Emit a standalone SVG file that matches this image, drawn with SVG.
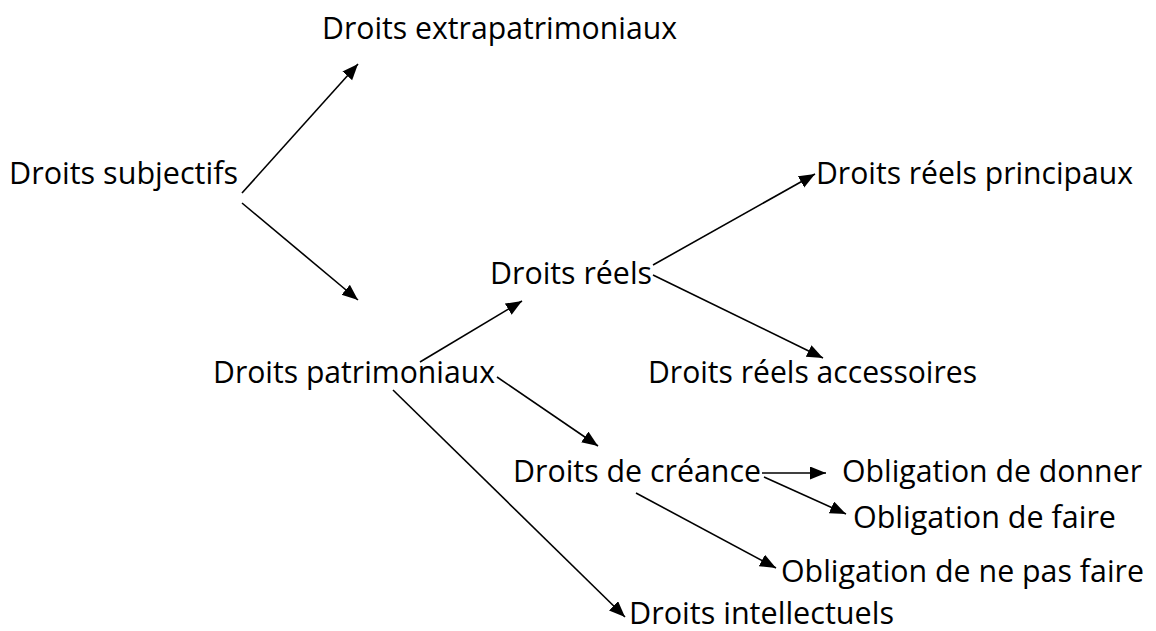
<svg xmlns="http://www.w3.org/2000/svg" width="1156" height="631" viewBox="0 0 1156 631">
  <style>
    text { font-family: "Open Sans", "Noto Sans", "Liberation Sans", sans-serif; font-size: 31px; fill: #000; }
    .conn line { stroke: #000; stroke-width: 1.6; fill: none; marker-end: url(#arrow); }
  </style>
  <defs>
    <marker id="arrow" markerUnits="userSpaceOnUse" markerWidth="18" markerHeight="14" refX="16" refY="6.5" orient="auto">
      <path d="M0,0 L16,6.5 L0,13 Z" fill="#000"/>
    </marker>
  </defs>
  <rect width="1156" height="631" fill="#fff"/>

  <g id="node-extrapatrimoniaux"><text x="322" y="39" textLength="355" lengthAdjust="spacingAndGlyphs">Droits extrapatrimoniaux</text></g>
  <g id="node-subjectifs"><text x="9" y="184" textLength="229" lengthAdjust="spacingAndGlyphs">Droits subjectifs</text></g>
  <g id="node-reels-principaux"><text x="816" y="184" textLength="317" lengthAdjust="spacingAndGlyphs">Droits réels principaux</text></g>
  <g id="node-reels"><text x="490" y="284" textLength="162" lengthAdjust="spacingAndGlyphs">Droits réels</text></g>
  <g id="node-patrimoniaux"><text x="213" y="383" textLength="282" lengthAdjust="spacingAndGlyphs">Droits patrimoniaux</text></g>
  <g id="node-reels-accessoires"><text x="648" y="383" textLength="329" lengthAdjust="spacingAndGlyphs">Droits réels accessoires</text></g>
  <g id="node-creance"><text x="513" y="482" textLength="248" lengthAdjust="spacingAndGlyphs">Droits de créance</text></g>
  <g id="node-donner"><text x="842" y="482" textLength="300" lengthAdjust="spacingAndGlyphs">Obligation de donner</text></g>
  <g id="node-faire"><text x="853" y="528" textLength="263" lengthAdjust="spacingAndGlyphs">Obligation de faire</text></g>
  <g id="node-ne-pas-faire"><text x="781" y="582" textLength="363" lengthAdjust="spacingAndGlyphs">Obligation de ne pas faire</text></g>
  <g id="node-intellectuels"><text x="629" y="624" textLength="265" lengthAdjust="spacingAndGlyphs">Droits intellectuels</text></g>

  <g id="connectors" class="conn">
    <line x1="242" y1="193" x2="358" y2="64"/>
    <line x1="242" y1="203" x2="358" y2="300"/>
    <line x1="420" y1="362" x2="522" y2="301"/>
    <line x1="497" y1="377" x2="598" y2="446"/>
    <line x1="393" y1="390" x2="625" y2="617"/>
    <line x1="653" y1="265" x2="815" y2="174"/>
    <line x1="653" y1="275" x2="823" y2="358"/>
    <line x1="762" y1="473" x2="826" y2="473"/>
    <line x1="764" y1="477" x2="846" y2="514"/>
    <line x1="636" y1="493" x2="776" y2="568"/>
  </g>
</svg>
